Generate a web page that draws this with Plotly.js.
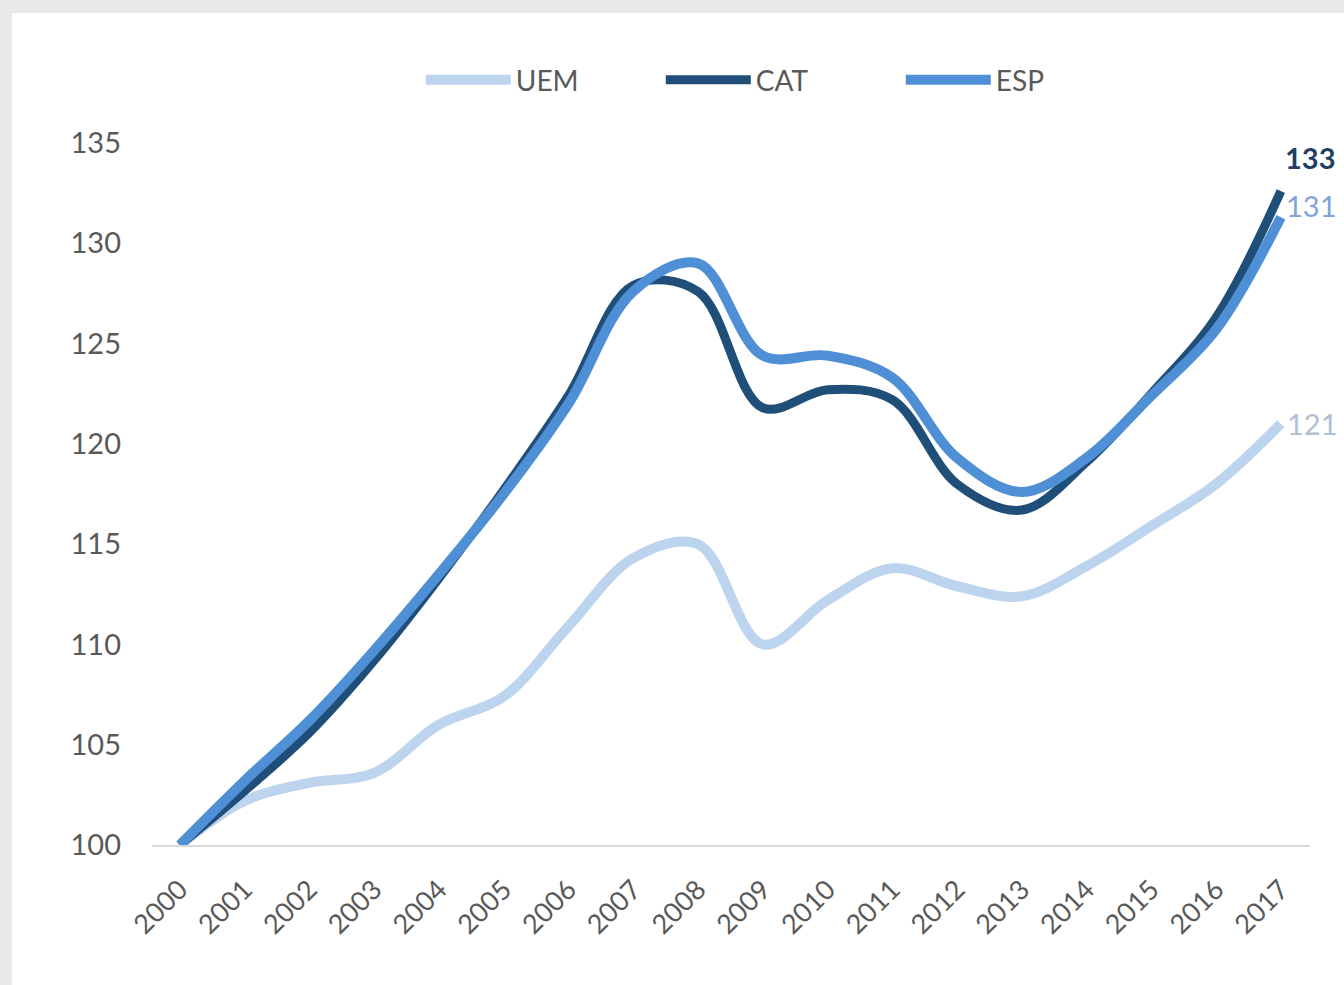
<!DOCTYPE html>
<html>
<head>
<meta charset="utf-8">
<script src="https://cdn.plot.ly/plotly-3.0.1.min.js"></script>
<style>
  html, body { margin: 0; padding: 0; background: #e9e9e9; width: 1344px; height: 985px; overflow: hidden; }
  #chart { position: absolute; left: 12px; top: 13px; width: 1332px; height: 972px; background: #ffffff; }
</style>
</head>
<body>
<div id="chart"></div>
<script>
// Data (index, 2000 = 100)
const years = [2000, 2001, 2002, 2003, 2004, 2005, 2006, 2007, 2008, 2009, 2010, 2011, 2012, 2013, 2014, 2015, 2016, 2017];
const uem = [100, 102.2, 103.1, 103.6, 106.0, 107.4, 110.9, 114.3, 115.0, 110.0, 112.2, 113.8, 112.9, 112.4, 113.9, 115.9, 118.0, 121.0];
const cat = [100, 102.7, 105.6, 109.2, 113.3, 117.7, 122.4, 127.9, 127.6, 121.8, 122.7, 122.2, 118.0, 116.7, 119.1, 122.5, 126.3, 132.6];
const esp = [100, 103.2, 106.2, 109.7, 113.5, 117.5, 122.0, 127.6, 129.0, 124.4, 124.4, 123.3, 119.3, 117.6, 119.3, 122.4, 125.7, 131.3];
const seriesNames = ['UEM', 'CAT', 'ESP'];
const endLabels = ['121', '133', '131'];

const colUEM = '#bcd4ee';
const colCAT = '#1f4e79';
const colESP = '#4f8fd6';
const fontFam = 'Lato, Roboto, "Liberation Sans", sans-serif';

function mk(name, y, color, w) {
  return {
    x: years, y: y, name: name, type: 'scatter', mode: 'lines',
    line: { color: color, width: w, shape: 'spline', smoothing: 1 },
    cliponaxis: false, hoverinfo: 'skip'
  };
}

const traces = [
  mk(seriesNames[0], uem, colUEM, 10),
  mk(seriesNames[1], cat, colCAT, 9),
  mk(seriesNames[2], esp, colESP, 10)
];

const last = years.length - 1;
const annotations = [
  { x: years[last], y: cat[last], text: '<b>' + endLabels[1] + '</b>', showarrow: false,
    xanchor: 'left', yanchor: 'middle', xshift: 2, yshift: 34,
    font: { family: fontFam, size: 29, color: '#1f3f63' } },
  { x: years[last], y: esp[last], text: endLabels[2], showarrow: false,
    xanchor: 'left', yanchor: 'middle', xshift: 3, yshift: 12,
    font: { family: fontFam, size: 29, color: '#7ea6d4' } },
  { x: years[last], y: uem[last], text: endLabels[0], showarrow: false,
    xanchor: 'left', yanchor: 'middle', xshift: 4, yshift: 0,
    font: { family: fontFam, size: 29, color: '#aebfd6' } }
];

const layout = {
  width: 1332, height: 972,
  paper_bgcolor: '#ffffff', plot_bgcolor: '#ffffff',
  margin: { l: 140, r: 34, t: 130, b: 140 },
  showlegend: true,
  legend: {
    orientation: 'h', x: 0.543, xanchor: 'center', y: 1.054, yanchor: 'bottom',
    yref: 'paper', font: { family: fontFam, size: 28, color: '#595959' },
    itemwidth: 85, entrywidth: 140, traceorder: 'normal', itemclick: false
  },
  xaxis: {
    range: [1999.57, 2017.45], tickmode: 'array', tickvals: years,
    ticktext: years.map(String), tickangle: -45,
    showgrid: false, zeroline: false, showline: true, linecolor: '#d9d9d9', linewidth: 2,
    ticks: '', ticklabelstandoff: 16,
    tickfont: { family: fontFam, size: 27, color: '#595959' }
  },
  yaxis: {
    range: [100, 135], tickmode: 'linear', tick0: 100, dtick: 5,
    showgrid: false, zeroline: false, showline: false, ticks: '',
    ticklabelstandoff: 30,
    tickfont: { family: fontFam, size: 29, color: '#595959' }
  },
  annotations: annotations
};

Plotly.newPlot('chart', traces, layout, { displayModeBar: false, staticPlot: true });
</script>
</body>
</html>
